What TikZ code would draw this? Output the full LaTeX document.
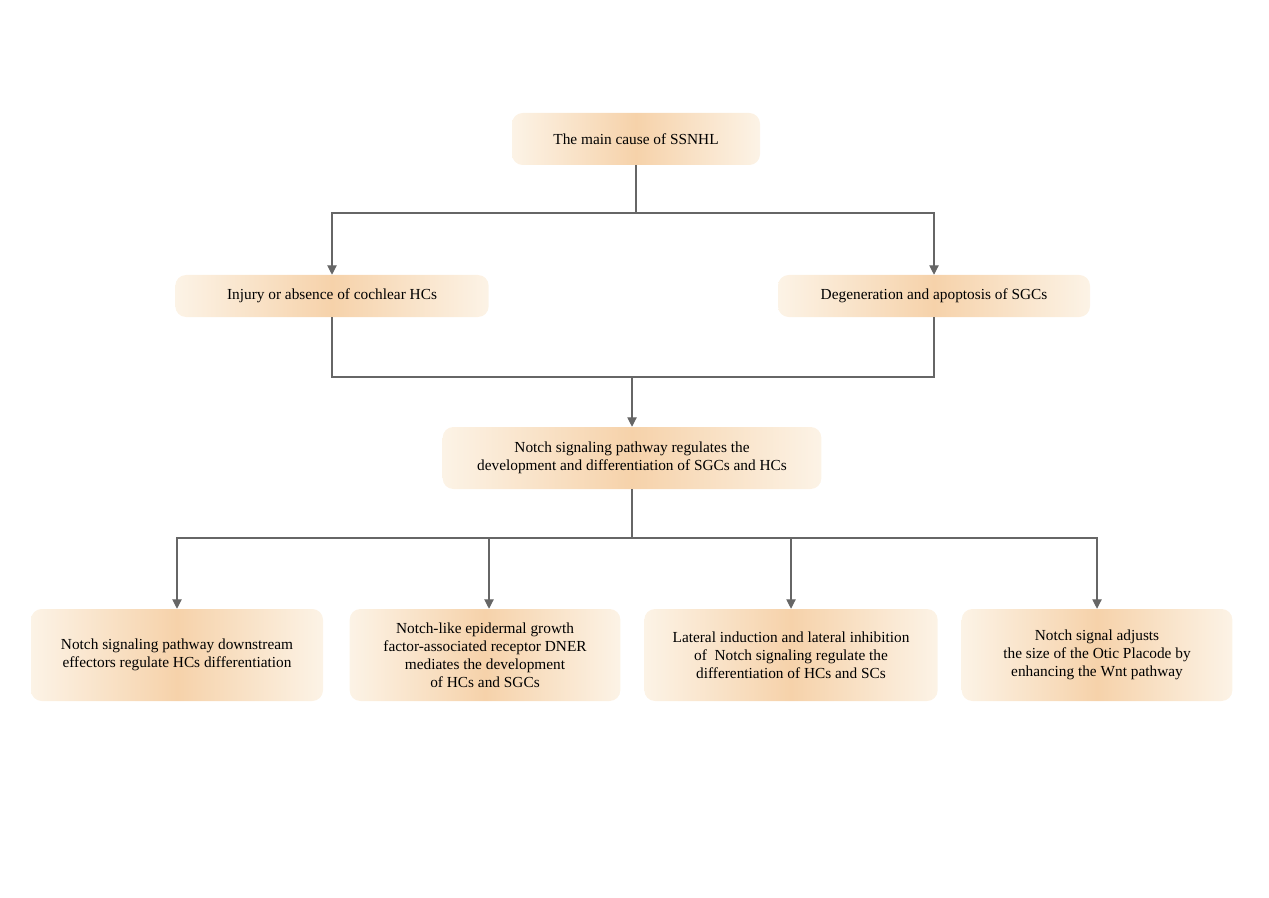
\documentclass[tikz,border=0pt]{standalone}
\usepackage{fontspec}
\setmainfont{Liberation Serif}
\usetikzlibrary{arrows.meta}
\definecolor{edgec}{HTML}{FCF3E6}
\definecolor{midc}{HTML}{F6D2AA}
\definecolor{linec}{HTML}{666666}
\begin{document}
\begin{tikzpicture}[x=0.75pt,y=-0.75pt,
 box/.style={rounded corners=8pt,left color=edgec,right color=edgec,middle color=midc,draw=none,
   align=center,font=\fontsize{11.5}{13.5}\selectfont,inner sep=0pt},
 ln/.style={draw=linec,line width=0.8pt},
 ar/.style={ln,-{Triangle[length=7pt,width=7pt]}}]
\useasboundingbox (0,0) rectangle (1269,898);
\node[box,minimum width=186pt,minimum height=39pt] (top) at (636,139) {The main cause of SSNHL};
\node[box,minimum width=235pt,minimum height=31.5pt] (l2) at (332,296) {Injury or absence of cochlear HCs};
\node[box,minimum width=234pt,minimum height=31.5pt] (r2) at (934,296) {Degeneration and apoptosis of SGCs};
\node[box,minimum width=284pt,minimum height=46.5pt] (mid) at (632,458) {Notch signaling pathway regulates the\\development and differentiation of SGCs and HCs};
\node[box,minimum width=219pt,minimum height=69pt] (b1) at (177,655) {Notch signaling pathway downstream\\effectors regulate HCs differentiation};
\node[box,minimum width=203pt,minimum height=69pt] (b2) at (485,655) {Notch-like epidermal growth\\factor-associated receptor DNER\\mediates the development\\of HCs and SGCs};
\node[box,minimum width=220pt,minimum height=69pt] (b3) at (791,655) {Lateral induction and lateral inhibition\\of \ Notch signaling regulate the\\differentiation of HCs and SCs};
\node[box,minimum width=203pt,minimum height=69pt] (b4) at (1097,655) {Notch signal adjusts\\the size of the Otic Placode by\\enhancing the Wnt pathway};
\coordinate (j1) at (636,213);
\draw[ln] (top.south) -- (j1);
\draw[ar] (j1) -| (l2.north);
\draw[ar] (j1) -| (r2.north);
\coordinate (j2) at (632,377);
\draw[ln] (l2.south) |- (j2) -| (r2.south);
\draw[ar] (j2) -- (mid.north);
\coordinate (j3) at (632,538);
\draw[ln] (mid.south) -- (j3);
\draw[ar] (j3) -| (b1.north);
\draw[ar] (j3) -| ([xshift=3pt]b2.north);
\draw[ar] (j3) -| (b3.north);
\draw[ar] (j3) -| (b4.north);
\end{tikzpicture}
\end{document}
